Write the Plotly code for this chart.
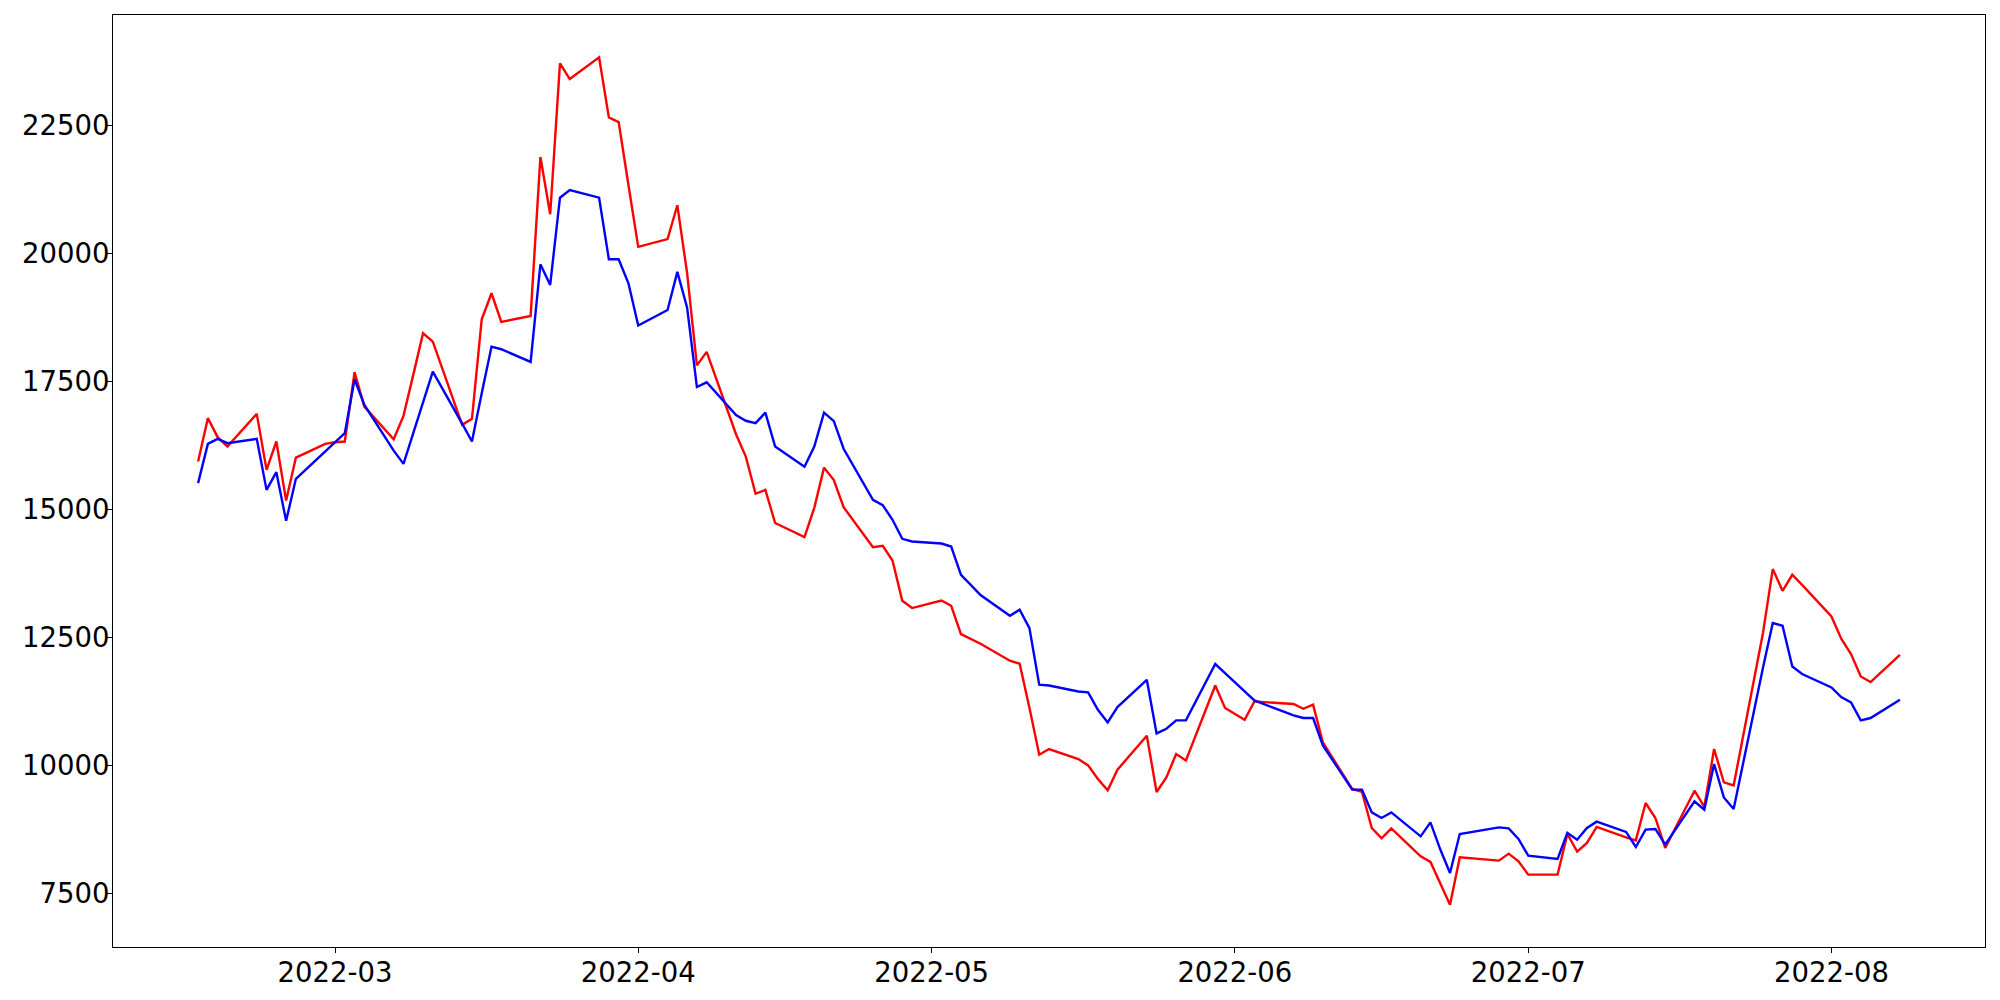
import pandas as pd
import plotly.graph_objects as go

# Trading dates (weekdays)
dates = [
    "2022-02-15", "2022-02-16", "2022-02-17", "2022-02-18", "2022-02-21", "2022-02-22",
    "2022-02-23", "2022-02-24", "2022-02-25", "2022-02-28",
    "2022-03-01", "2022-03-02", "2022-03-03", "2022-03-04", "2022-03-07", "2022-03-08",
    "2022-03-09", "2022-03-10", "2022-03-11", "2022-03-14", "2022-03-15", "2022-03-16",
    "2022-03-17", "2022-03-18", "2022-03-21", "2022-03-22", "2022-03-23", "2022-03-24",
    "2022-03-25", "2022-03-28", "2022-03-29", "2022-03-30", "2022-03-31",
    "2022-04-01", "2022-04-04", "2022-04-05", "2022-04-06", "2022-04-07", "2022-04-08",
    "2022-04-11", "2022-04-12", "2022-04-13", "2022-04-14", "2022-04-15", "2022-04-18",
    "2022-04-19", "2022-04-20", "2022-04-21", "2022-04-22", "2022-04-25", "2022-04-26",
    "2022-04-27", "2022-04-28", "2022-04-29",
    "2022-05-02", "2022-05-03", "2022-05-04", "2022-05-05", "2022-05-06", "2022-05-09",
    "2022-05-10", "2022-05-11", "2022-05-12", "2022-05-13", "2022-05-16", "2022-05-17",
    "2022-05-18", "2022-05-19", "2022-05-20", "2022-05-23", "2022-05-24", "2022-05-25",
    "2022-05-26", "2022-05-27", "2022-05-30", "2022-05-31",
    "2022-06-01", "2022-06-02", "2022-06-03", "2022-06-06", "2022-06-07", "2022-06-08",
    "2022-06-09", "2022-06-10", "2022-06-13", "2022-06-14", "2022-06-15", "2022-06-16",
    "2022-06-17", "2022-06-20", "2022-06-21", "2022-06-22", "2022-06-23", "2022-06-24",
    "2022-06-27", "2022-06-28", "2022-06-29", "2022-06-30",
    "2022-07-01", "2022-07-04", "2022-07-05", "2022-07-06", "2022-07-07", "2022-07-08",
    "2022-07-11", "2022-07-12", "2022-07-13", "2022-07-14", "2022-07-15", "2022-07-18",
    "2022-07-19", "2022-07-20", "2022-07-21", "2022-07-22", "2022-07-25", "2022-07-26",
    "2022-07-27", "2022-07-28", "2022-07-29",
    "2022-08-01", "2022-08-02", "2022-08-03", "2022-08-04", "2022-08-05", "2022-08-08",
]

red_values = [
    15937, 16784, 16413, 16230, 16868, 15775, 16328, 15176, 16015, 16282,
    16315, 16328, 17681, 17011, 16373, 16829, 17629, 18442, 18279, 16653, 16770, 18716,
    19223, 18663, 18780, 21883, 20765, 23712, 23406, 23829, 22658, 22566, 21337,
    20129, 20281, 20941, 19615, 17814, 18078, 16470, 16034, 15308, 15383, 14737, 14460,
    15033, 15818, 15574, 15045, 14266, 14292, 14005, 13218, 13076,
    13224, 13121, 12568, 12477, 12379, 12047, 11989, 11130, 10213, 10324, 10129, 10004,
    9738, 9516, 9920, 10584, 9485, 9770, 10226, 10101, 11565, 11124,
    11009, 10896, 11253, 11214, 11202, 11110, 11189, 10453, 9543, 9485, 8782, 8579,
    8774, 8228, 8119, 7701, 7285, 8208, 8157, 8144, 8281, 8130,
    7871, 7871, 8665, 8320, 8489, 8802, 8599, 8540, 9270, 8977, 8392, 9510,
    9192, 10324, 9672, 9614, 12588, 13837, 13413, 13726, 13530,
    12912, 12477, 12178, 11741, 11631, 12164,
]

blue_values = [
    15515, 16282, 16380, 16295, 16380, 15384, 15729, 14779, 15599, 16132,
    16315, 16490, 17544, 17043, 16150, 15892, 16491, 17096, 17693, 16679, 16328, 17272,
    18181, 18130, 17883, 19789, 19385, 21089, 21239, 21089, 19887, 19887, 19418,
    18593, 18895, 19641, 18942, 17393, 17484, 16846, 16733, 16688, 16891, 16231, 15837,
    16231, 16891, 16727, 16187, 15189, 15086, 14799, 14428, 14376,
    14337, 14278, 13726, 13530, 13329, 12925, 13043, 12685, 11579, 11563, 11448, 11429,
    11091, 10843, 11144, 11676, 10628, 10720, 10882, 10882, 11983, 11807,
    11624, 11448, 11272, 11052, 10980, 10929, 10929, 10394, 9530, 9530, 9087, 8977,
    9087, 8618, 8892, 8365, 7904, 8665, 8763, 8794, 8774, 8567,
    8242, 8177, 8685, 8554, 8782, 8905, 8704, 8411, 8749, 8763, 8456, 9301,
    9139, 10031, 9379, 9153, 11911, 12783, 12730, 11936, 11788,
    11526, 11339, 11233, 10882, 10929, 11286,
]

x_tick_vals = ["2022-03-01", "2022-04-01", "2022-05-01", "2022-06-01", "2022-07-01", "2022-08-01"]
x_tick_labels = ["2022-03", "2022-04", "2022-05", "2022-06", "2022-07", "2022-08"]
y_tick_vals = [7500, 10000, 12500, 15000, 17500, 20000, 22500]
y_tick_labels = ["7500", "10000", "12500", "15000", "17500", "20000", "22500"]

# matplotlib-like 5% margins
dt = pd.to_datetime(dates)
span = dt.max() - dt.min()
x_range = [dt.min() - 0.05 * span, dt.max() + 0.05 * span]
all_v = red_values + blue_values
vspan = max(all_v) - min(all_v)
y_range = [min(all_v) - 0.05 * vspan, max(all_v) + 0.05 * vspan]

fig = go.Figure()
fig.add_trace(go.Scatter(x=dates, y=red_values, mode="lines",
                         line=dict(color="red", width=2.4), showlegend=False))
fig.add_trace(go.Scatter(x=dates, y=blue_values, mode="lines",
                         line=dict(color="blue", width=2.4), showlegend=False))

font = dict(family="DejaVu Sans", size=27.5, color="black")
fig.update_layout(
    width=1984, height=984,
    margin=dict(l=105, r=7, t=7, b=45, pad=0),
    paper_bgcolor="white", plot_bgcolor="white",
    font=font,
    showlegend=False,
)
common = dict(
    showgrid=False, zeroline=False, automargin=False,
    showline=True, mirror=True, linecolor="black", linewidth=1.1,
    ticks="outside", ticklen=5, tickwidth=1.1, tickcolor="black",
    tickfont=font,
)
fig.update_xaxes(type="date", range=x_range,
                 tickmode="array", tickvals=x_tick_vals, ticktext=x_tick_labels,
                 ticklabelstandoff=-4, **common)
fig.update_yaxes(range=y_range,
                 tickmode="array", tickvals=y_tick_vals, ticktext=y_tick_labels,
                 ticklabelstandoff=-8, **common)

fig.write_html("out.html")
